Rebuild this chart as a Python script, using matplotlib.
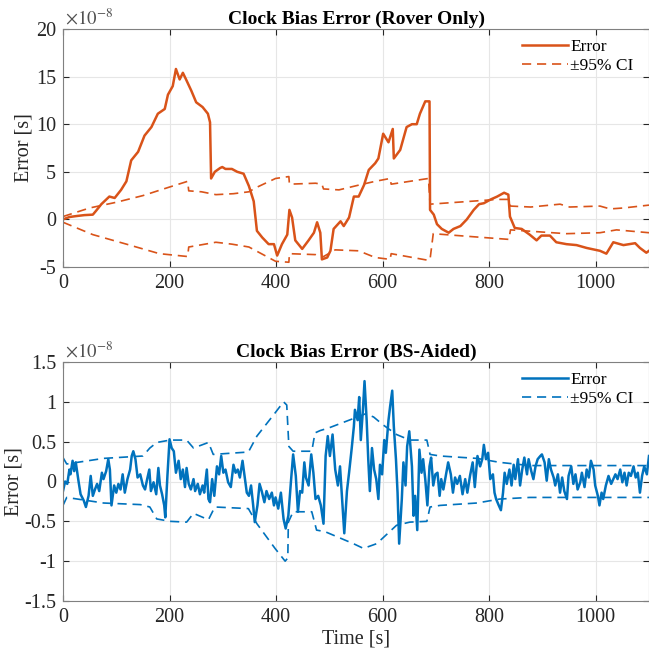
import matplotlib
matplotlib.use("Agg")
import matplotlib.pyplot as plt

plt.rcParams['font.family'] = ['Liberation Serif', 'DejaVu Serif']
plt.rcParams['mathtext.fontset'] = 'stix'
plt.rcParams['axes.unicode_minus'] = False

# rover only (units of 1e-8 s)
t_rov = [0, 12, 25, 40, 56, 62, 72, 87, 97, 109, 119, 128, 141, 153, 166, 178, 191, 197, 206, 212,
         219, 225, 231, 241, 250, 262, 272, 276, 278, 285, 295, 299, 305, 317, 327, 339, 349, 358, 364,
         374, 386, 396, 402, 411, 421, 425, 430, 436, 449, 461, 471, 477, 483, 486, 496, 502, 508, 521,
         527, 537, 546, 555, 565, 574, 586, 592, 601, 611, 619, 621, 633, 645, 655, 664, 670, 680, 688,
         689, 696, 702, 711, 724, 733, 746, 758, 771, 781, 790, 803, 815, 828, 836, 839, 848, 861, 876,
         889, 898, 914, 926, 945, 964, 983, 1008, 1020, 1033, 1052, 1074, 1083, 1095, 1100]
err_rov = [0.0, 0.25, 0.35, 0.45, 0.5, 0.9, 1.6, 2.4, 2.25, 3.1, 4.0, 6.2, 7.1, 8.8, 9.7, 11.1, 11.6, 13.1, 14.0, 15.8,
           14.7, 15.4, 14.7, 13.5, 12.3, 11.8, 11.1, 10.2, 4.3, 5.0, 5.4, 5.5, 5.3, 5.3, 5.0, 4.8, 3.5, 1.9, -1.2,
           -1.9, -2.6, -2.6, -3.8, -2.6, -1.6, 1.0, 0.2, -2.2, -3.1, -2.2, -1.4, -0.3, -1.4, -4.2, -4.0, -3.3, -1.0, -0.2,
           -0.7, 0.2, 2.4, 2.4, 3.6, 5.2, 5.9, 6.4, 9.0, 8.1, 9.5, 6.4, 7.3, 9.7, 10.0, 10.0, 11.1, 12.4, 12.4,
           1.0, 0.5, -0.5, -1.0, -1.4, -1.0, -0.7, 0.0, 1.0, 1.6, 1.7, 2.1, 2.4, 2.8, 2.6, 0.3, -0.9, -1.0, -1.6,
           -2.2, -1.7, -1.7, -2.4, -2.6, -2.7, -3.0, -3.3, -3.6, -2.4, -2.7, -2.5, -3.0, -3.5, -3.3]

t_rov_up = [0, 50, 100, 150, 200, 234, 236, 260, 287, 320, 349, 361, 399, 424, 425, 474, 486, 489, 518, 555,
            586, 614, 616, 686, 689, 765, 815, 837, 840, 878, 933, 951, 1008, 1027, 1052, 1100]
ci_rov_up = [0.3, 1.2, 1.8, 2.5, 3.4, 4.0, 3.0, 2.9, 2.6, 2.7, 2.9, 3.3, 4.3, 4.5, 3.7, 3.8, 3.7, 3.2, 3.1, 3.6,
             4.0, 4.3, 3.7, 4.3, 1.6, 1.9, 2.1, 2.1, 1.4, 1.3, 1.6, 1.3, 1.4, 1.1, 1.2, 1.5]
t_rov_lo = [0, 56, 119, 181, 234, 236, 287, 317, 349, 399, 424, 425, 474, 486, 511, 555, 586, 614, 616,
            686, 689, 695, 765, 837, 840, 945, 1008, 1039, 1100]
ci_rov_lo = [-0.3, -1.6, -2.6, -3.6, -3.9, -2.9, -2.4, -2.6, -2.9, -4.4, -4.5, -3.6, -3.7, -4.0, -3.2, -3.3, -4.0, -4.2, -3.6,
             -4.3, -4.2, -1.5, -1.8, -2.1, -1.1, -1.5, -1.4, -1.1, -1.4]

# BS-aided (units of 1e-8 s)
t_bs = [0, 4, 8, 12, 14, 18, 21, 24, 29, 33, 39, 43, 48, 52, 56, 60, 64, 68, 73, 76, 81, 85, 88, 91, 96,
        100, 104, 108, 112, 116, 121, 126, 129, 132, 136, 140, 145, 150, 154, 158, 162, 165, 170, 175, 179,
        182, 186, 190, 192, 196, 200, 204, 208, 212, 217, 221, 225, 229, 232, 236, 240, 245, 248, 253, 257,
        262, 265, 270, 273, 276, 280, 284, 289, 293, 297, 301, 305, 310, 315, 320, 324, 328, 332, 337, 340,
        345, 349, 353, 357, 360, 365, 369, 373, 378, 382, 387, 392, 396, 399, 404, 409, 414, 418, 423, 428,
        432, 437, 441, 445, 449, 453, 456, 461, 466, 470, 474, 479, 484, 489, 493, 497, 501, 506, 511, 516,
        520, 524, 528, 533, 537, 542, 546, 548, 553, 556, 559, 563, 566, 570, 573, 576, 580, 584, 588, 592,
        595, 599, 603, 606, 611, 614, 618, 621, 625, 628, 631, 636, 639, 643, 646, 650, 655, 658, 661, 665,
        669, 673, 676, 680, 684, 688, 691, 695, 699, 703, 707, 710, 714, 719, 723, 728, 732, 736, 740, 745,
        750, 755, 759, 764, 769, 773, 778, 783, 787, 790, 794, 798, 802, 807, 810, 813, 818, 822, 826, 829,
        833, 838, 842, 846, 849, 854, 858, 862, 866, 871, 874, 879, 883, 887, 891, 896, 899, 904, 908, 912,
        916, 921, 924, 929, 933, 937, 941, 946, 949, 954, 958, 962, 966, 971, 974, 979, 983, 987, 991, 996,
        999, 1004, 1007, 1011, 1014, 1019, 1024, 1029, 1033, 1037, 1041, 1046, 1050, 1054, 1058, 1062, 1066,
        1071, 1075, 1079, 1083, 1087, 1091, 1096, 1100]
err_bs = [-0.12, 0.0, -0.03, 0.15, 0.09, 0.26, 0.13, 0.24, 0.01, -0.16, -0.24, -0.32, -0.18, 0.07, -0.18, -0.1,
          -0.03, -0.12, 0.11, 0.03, 0.13, 0.28, 0.15, -0.3, -0.05, -0.14, -0.03, -0.1, 0.09, -0.14, 0.03, 0.15,
          0.32, 0.38, 0.28, 0.05, 0.09, -0.05, -0.1, 0.03, 0.15, -0.12, -0.01, -0.16, 0.17, -0.05, -0.16, -0.3,
          -0.45, 0.07, 0.53, 0.42, 0.38, 0.11, 0.26, 0.03, 0.15, -0.07, 0.17, -0.03, -0.1, 0.03, -0.12, -0.03,
          -0.16, -0.05, -0.14, 0.15, -0.22, -0.26, 0.03, -0.18, 0.19, 0.09, 0.32, 0.11, 0.15, -0.01, -0.07, 0.21,
          0.11, 0.15, 0.05, 0.26, 0.11, -0.14, -0.18, -0.05, -0.3, -0.51, -0.3, -0.03, -0.12, -0.26, -0.12, -0.22,
          -0.14, -0.3, -0.2, -0.34, -0.14, -0.47, -0.59, -0.43, 0.01, 0.34, 0.07, -0.38, -0.12, -0.14, 0.24, 0.05,
          -0.05, 0.34, 0.11, -0.22, -0.18, -0.3, -0.53, 0.32, 0.57, 0.32, 0.59, 0.15, -0.05, 0.19, -0.22, -0.65,
          -0.12, 0.11, 0.42, 0.69, 0.9, 0.77, 1.06, 0.52, 0.9, 1.26, 0.77, 0.28, -0.12, 0.42, 0.15, 0.03, -0.22,
          0.21, 0.09, 0.52, 0.36, 0.77, 0.94, 1.14, 0.69, 0.28, -0.14, -0.78, -0.22, 0.24, -0.05, 0.44, 0.63,
          0.19, -0.43, -0.18, -0.61, 0.4, 0.11, 0.28, 0.03, -0.3, 0.19, 0.3, -0.05, 0.09, 0.11, -0.18, 0.03,
          -0.1, 0.09, 0.24, 0.09, -0.14, 0.05, -0.03, 0.07, -0.16, 0.03, -0.14, 0.07, 0.24, -0.07, 0.32, 0.19,
          0.28, 0.46, 0.28, 0.36, 0.03, 0.09, -0.14, -0.22, -0.3, -0.36, -0.14, 0.11, -0.03, 0.15, -0.05, 0.21,
          0.03, 0.28, -0.05, 0.15, 0.3, 0.09, 0.28, 0.13, 0.03, 0.19, 0.28, 0.32, 0.34, 0.24, 0.01, 0.28, 0.15,
          0.05, -0.05, 0.09, -0.14, 0.05, -0.12, -0.22, 0.07, 0.19, -0.03, 0.09, -0.1, -0.01, 0.11, -0.07, 0.15,
          0.05, 0.26, 0.15, -0.05, -0.18, -0.3, -0.14, -0.22, -0.05, 0.07, -0.03, 0.03, 0.09, 0.03, 0.15, -0.01,
          0.11, -0.05, 0.11, 0.07, 0.19, 0.05, 0.11, -0.14, 0.07, 0.19, 0.09, 0.32]

t_bs_up = [0, 7, 76, 150, 163, 176, 201, 232, 245, 273, 282, 348, 364, 398, 414, 420, 424, 432, 467, 473,
           483, 498, 545, 568, 583, 601, 626, 651, 683, 689, 708, 777, 820, 876, 1100]
ci_bs_up = [0.3, 0.22, 0.29, 0.32, 0.42, 0.49, 0.52, 0.52, 0.42, 0.49, 0.34, 0.37, 0.57, 0.86, 1.0, 0.96, 0.44, 0.38,
            0.38, 0.61, 0.64, 0.67, 0.79, 0.85, 0.81, 0.71, 0.59, 0.52, 0.52, 0.34, 0.32, 0.29, 0.24, 0.2, 0.2]
t_bs_lo = [0, 7, 76, 145, 163, 176, 201, 232, 245, 273, 285, 348, 364, 398, 417, 422, 423, 432, 467, 476,
           492, 545, 564, 589, 626, 651, 683, 689, 708, 777, 820, 876, 1100]
ci_bs_lo = [-0.3, -0.2, -0.27, -0.29, -0.32, -0.47, -0.5, -0.51, -0.4, -0.48, -0.32, -0.34, -0.53, -0.84, -1.0, -0.96,
            -0.51, -0.38, -0.38, -0.61, -0.63, -0.78, -0.84, -0.78, -0.55, -0.51, -0.5, -0.32, -0.3, -0.27, -0.22,
            -0.2, -0.2]

orange = '#D95319'
blue = '#0072BD'
axc = '#262626'

fig = plt.figure(figsize=(6.49, 6.52), dpi=100)
ax1 = fig.add_axes([63/649, 1 - 267/652, 586/649, 238/652])
ax2 = fig.add_axes([63/649, 1 - 601/652, 586/649, 239/652])


def style(ax, yt, ylim, title, ylab_x):
    ax.set_xlim(0, 1100)
    ax.set_ylim(*ylim)
    ax.set_xticks([0, 200, 400, 600, 800, 1000])
    ax.set_yticks(yt)
    ax.set_yticklabels([('%g' % v) for v in yt])
    ax.grid(True, color='#e6e6e6', linewidth=0.8)
    ax.set_axisbelow(True)
    ax.tick_params(direction='in', length=4, labelsize=14.5, colors=axc, top=True, right=True, pad=5)
    for s in ax.spines.values():
        s.set_color('#808080')
        s.set_linewidth(0.8)
    ax.set_title(title, fontsize=14, fontweight='bold', pad=4)
    ax.set_ylabel('Error [s]', fontsize=14.5, color=axc)
    ax.yaxis.set_label_coords(ylab_x, 0.5)
    ax.text(0.003, 1.003, r'$\times10^{-8}$', transform=ax.transAxes, fontsize=13.5,
            color='#505050', va='bottom', ha='left')
    ax.legend(loc='upper right', frameon=False, fontsize=12.5, handlelength=2.6,
              handletextpad=0.15, labelspacing=0.2, borderaxespad=0.15, bbox_to_anchor=(0.99, 1.0))


ax1.plot(t_rov, err_rov, color=orange, lw=1.8, label='Error')
ax1.plot(t_rov_up, ci_rov_up, color=orange, lw=1.2, ls=(0, (5.5, 3.5)), label='\u00b195% CI')
ax1.plot(t_rov_lo, ci_rov_lo, color=orange, lw=1.2, ls=(0, (5.5, 3.5)))
style(ax1, [-5, 0, 5, 10, 15, 20], (-5, 20), 'Clock Bias Error (Rover Only)', -0.051)

ax2.plot(t_bs, err_bs, color=blue, lw=1.8, label='Error')
ax2.plot(t_bs_up, ci_bs_up, color=blue, lw=1.2, ls=(0, (5.5, 3.5)), label='\u00b195% CI')
ax2.plot(t_bs_lo, ci_bs_lo, color=blue, lw=1.2, ls=(0, (5.5, 3.5)))
style(ax2, [-1.5, -1, -0.5, 0, 0.5, 1, 1.5], (-1.5, 1.5), 'Clock Bias Error (BS-Aided)', -0.067)
ax2.set_xlabel('Time [s]', fontsize=14.5, color=axc, labelpad=2)

fig.savefig('out.png', dpi=100)
